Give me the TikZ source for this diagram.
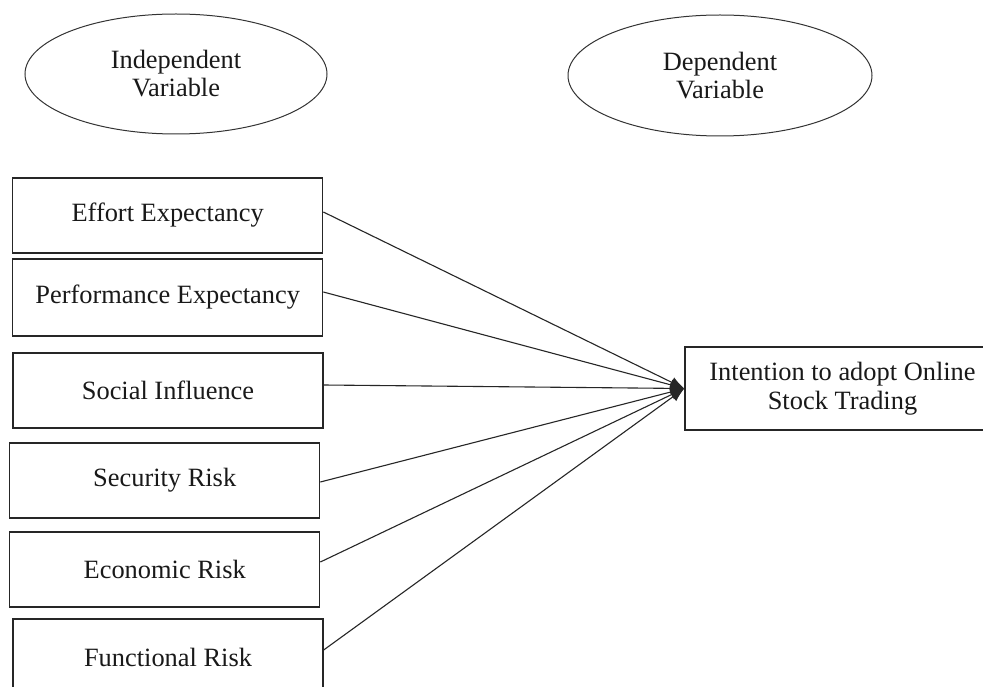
\documentclass[tikz,border=0pt]{standalone}
\usepackage{fontspec}
\setmainfont{Liberation Serif}
\usetikzlibrary{shapes.geometric,arrows.meta}
\begin{document}
\begin{tikzpicture}[x=1pt,y=-1pt,
  txt/.style={font=\fontsize{26.4}{28}\selectfont, text=black!90},
  varoval/.style={txt, draw=black!80, line width=1pt, ellipse, inner sep=0pt, align=center, minimum width=302pt, minimum height=120pt},
  varbox/.style={txt, draw=black!85, line width=1.3pt, rectangle, inner sep=0pt, minimum width=310pt, minimum height=75pt},
  link/.style={draw=black!85, line width=1.1pt, -{Latex[length=14pt,width=11pt]}}
]
\clip (0,0) rectangle (983,687);
\useasboundingbox (0,0) rectangle (983,687);
\fill[white] (0,0) rectangle (983,687);

\node[varoval] (iv) at (176,74) {Independent\\Variable};
\node[varoval, minimum width=304pt, minimum height=121pt] (dv) at (720,75.5) {Dependent\\Variable};

\node[varbox] (ee) at (167.7,215.5) {Effort Expectancy};
\node[varbox, minimum height=77pt] (pe) at (167.7,297.5) {Performance Expectancy};
\node[varbox] (si) at (168,390.5) {Social Influence};
\node[varbox] (sr) at (164.7,480.5) {Security Risk};
\node[varbox] (er) at (164.7,569.5) {Economic Risk};
\node[varbox, minimum height=76pt] (fr) at (168,657) {Functional Risk};

\node[txt, draw=black!85, line width=1.3pt, rectangle, inner sep=0pt, minimum width=315pt, minimum height=83pt, align=center] (it) at (842.5,388.5) {Intention to adopt Online\\[1pt]Stock Trading};

\draw[link] ([yshift=3.5pt]ee.east) -- (it.west);
\draw[link] ([yshift=5.5pt]pe.east) -- (it.west);
\draw[link] ([yshift=5.5pt]si.east) -- (it.west);
\draw[link] ([yshift=-1.5pt]sr.east) -- (it.west);
\draw[link] ([yshift=7.5pt]er.east) -- (it.west);
\draw[link] ([yshift=7pt]fr.east) -- (it.west);
\end{tikzpicture}
\end{document}
